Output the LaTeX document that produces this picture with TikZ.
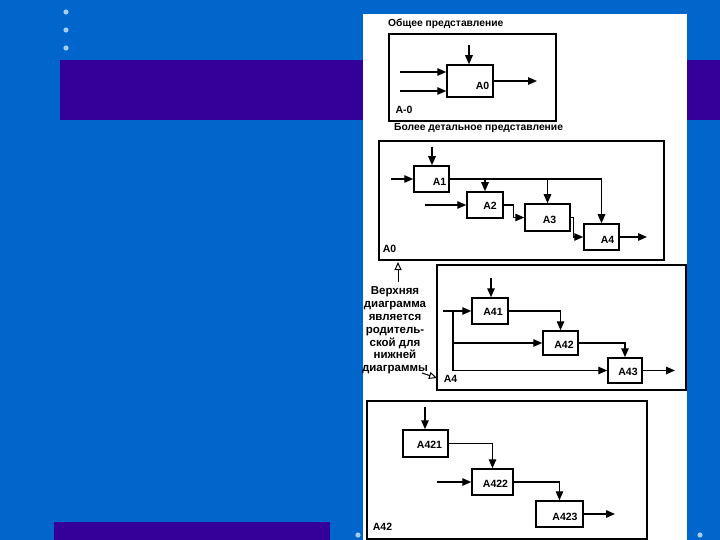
\documentclass[tikz,border=0pt]{standalone}
\usepackage{fontspec}
\setmainfont{Liberation Sans}
\usetikzlibrary{arrows.meta}
\definecolor{slideblue}{HTML}{0066CC}
\definecolor{slidepurple}{HTML}{330099}
\definecolor{dotblue}{HTML}{A8CCF0}

\begin{document}
\begin{tikzpicture}[x=1pt, y=-1pt,
    panel/.style={draw, line width=1.6pt},
    blk/.style={draw, line width=1.5pt, fill=white, inner sep=0pt},
    arr/.style={line width=1.4pt, -{Triangle[length=9pt, width=7.5pt]}},
    lbl/.style={font=\bfseries\fontsize{10.5}{12}\selectfont, inner sep=0pt},
    ttl/.style={font=\bfseries\fontsize{10.3}{12}\selectfont, anchor=west, inner sep=0pt},
    note/.style={line width=1pt, -{Triangle[open, length=8pt, width=7pt]}}]
    \useasboundingbox (0,0) rectangle (720,540);

    % Slide background
    \fill[slideblue] (0,0) rectangle (720,540);
    \fill[slidepurple] (60,60) rectangle (720,120);
    \fill[slidepurple] (54,522) rectangle (330,540);
    \foreach \p in {(66,12), (66,30), (66,48), (358,535), (700,535)}
        \fill[dotblue] \p circle (2.6);
    \fill[white] (363,14) rectangle (687,540);

    % General view A-0
    \node[ttl] (t1) at (388,23.5) {Общее представление};
    \draw[panel] (389,34) rectangle (556,121);
    \node[blk, minimum width=46, minimum height=32] (a0) at (470,81) {};
    \node[lbl] (a0t) at (482.5,85.5) {A0};
    \node[lbl] (p1) at (404,109.5) {A-0};
    \coordinate (c0) at (469,45);
    \coordinate (i01) at (400,72);
    \coordinate (i02) at (400,91);
    \coordinate (o0) at (537,81);
    \draw[arr] (c0) -- (c0 |- a0.north);
    \draw[arr] (i01) -- (i01 -| a0.west);
    \draw[arr] (i02) -- (i02 -| a0.west);
    \draw[arr] (a0.east) -- (o0);

    % Detailed view A0
    \node[ttl] (t2) at (394,128) {Более детальное представление};
    \draw[panel] (379,141) rectangle (664,260);
    \node[blk, minimum width=35, minimum height=26] (a1) at (431.5,179) {};
    \node[blk, minimum width=36, minimum height=26] (a2) at (485,205) {};
    \node[blk, minimum width=45, minimum height=27] (a3) at (547.5,217.5) {};
    \node[blk, minimum width=35, minimum height=26] (a4) at (601.5,237) {};
    \node[lbl] (a1t) at (439.5,182) {A1};
    \node[lbl] (a2t) at (490,206) {A2};
    \node[lbl] (a3t) at (549.5,220) {A3};
    \node[lbl] (a4t) at (607.5,239.5) {A4};
    \node[lbl] (p2) at (389.5,248.5) {A0};
    \coordinate (c1) at (432,147);
    \coordinate (i1) at (391,179);
    \coordinate (i2) at (425,205);
    \coordinate (o4) at (647,237);
    \draw[arr] (c1) -- (c1 |- a1.north);
    \draw[arr] (i1) -- (a1.west);
    \draw[arr] (i2) -- (a2.west);
    \draw[arr] (a1.east) -| (a4.north);
    \draw[arr] (a1.east -| a2.north) -- (a2.north);
    \draw[arr] (a1.east -| a3.north) -- (a3.north);
    \draw[arr] (a2.east) -- ++(10,0) |- (a3.west);
    \draw[arr] (a3.east) -- ++(3,0) |- (a4.west);
    \draw[arr] (a4.east) -- (o4);

    % Decomposition of A4
    \draw[panel] (437,265) rectangle (686,390);
    \node[blk, minimum width=36, minimum height=26] (a41) at (490,311) {};
    \node[blk, minimum width=35, minimum height=24] (a42) at (560.5,343) {};
    \node[blk, minimum width=34, minimum height=25] (a43) at (625,370.5) {};
    \node[lbl] (a41t) at (493,312) {A41};
    \node[lbl] (a42t) at (564,345) {A42};
    \node[lbl] (a43t) at (628,372) {A43};
    \node[lbl] (p3) at (450.5,379) {A4};
    \coordinate (c41) at (491,278);
    \coordinate (i41) at (443,311);
    \coordinate (j41) at (453,311);
    \coordinate (o43) at (675,370.5);
    \draw[arr] (c41) -- (c41 |- a41.north);
    \draw[arr] (i41) -- (a41.west);
    \draw[arr] (j41) |- (a43.west);
    \draw[arr] (j41 |- a42.west) -- (a42.west);
    \draw[arr] (a41.east) -| (a42.north);
    \draw[arr] (a42.east) -| (a43.north);
    \draw[arr] (a43.east) -- (o43);

    % Note on parent diagram
    \node[font=\bfseries\fontsize{11.5}{12.8}\selectfont, align=center, inner sep=0pt] (nt) at (395,330.5)
        {Верхняя\\диаграмма\\является\\родитель-\\ской для\\нижней\\диаграммы};
    \coordinate (n1) at (398,282);
    \coordinate (n2) at (398,262);
    \coordinate (n3) at (422,373);
    \coordinate (n4) at (437,378);
    \draw[note] (n1) -- (n2);
    \draw[note] (n3) -- (n4);

    % Decomposition of A42
    \draw[panel] (367,401) rectangle (647,539);
    \node[blk, minimum width=45, minimum height=27] (a421) at (425.5,443.5) {};
    \node[blk, minimum width=41, minimum height=26] (a422) at (492.5,482) {};
    \node[blk, minimum width=47, minimum height=26] (a423) at (559.5,514) {};
    \node[lbl] (a421t) at (429.5,445) {A421};
    \node[lbl] (a422t) at (495.5,483.5) {A422};
    \node[lbl] (a423t) at (565,516.5) {A423};
    \node[lbl] (p4) at (382.5,527) {A42};
    \coordinate (c421) at (425,407);
    \coordinate (i422) at (437,482);
    \coordinate (o423) at (615,514);
    \draw[arr] (c421) -- (c421 |- a421.north);
    \draw[arr] (a421.east) -| (a422.north);
    \draw[arr] (i422) -- (a422.west);
    \draw[arr] (a422.east) -| (a423.north);
    \draw[arr] (a423.east) -- (o423);
\end{tikzpicture}
\end{document}
